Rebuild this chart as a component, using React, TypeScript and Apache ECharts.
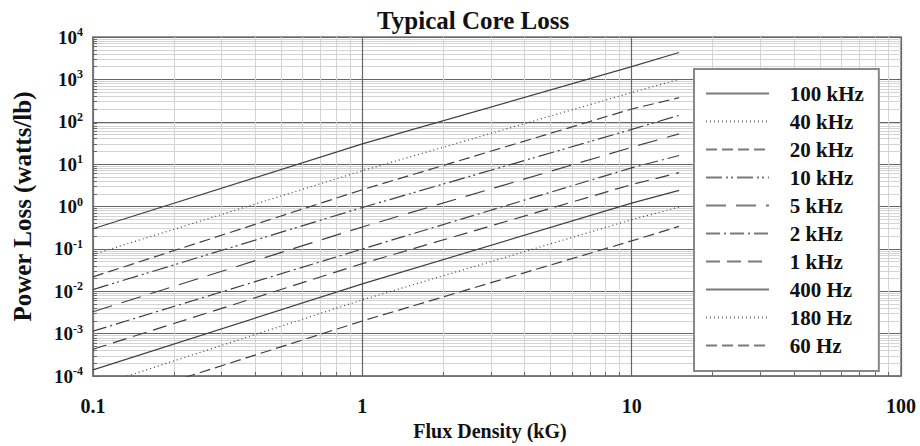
import React, { useEffect, useRef } from "react";
import * as echarts from "echarts";

// Flux density sample points (kG)
const fluxDensity = [0.1, 1, 10, 15];
const frequencies = ["100 kHz", "40 kHz", "20 kHz", "10 kHz", "5 kHz", "2 kHz", "1 kHz", "400 Hz", "180 Hz", "60 Hz"];
// Power loss (watts/lb) at each flux density point
const loss100k = [0.3, 30, 2000, 4300];
const loss40k = [0.074, 7, 490, 1000];
const loss20k = [0.022, 2.5, 200, 370];
const loss10k = [0.011, 0.95, 66, 142];
const loss5k = [0.0033, 0.33, 25, 52];
const loss2k = [0.00115, 0.1, 8.2, 16];
const loss1k = [0.00043, 0.045, 3.3, 6.3];
const loss400 = [0.00014, 0.015, 1.2, 2.4];
const loss180 = [0.000055, 0.0063, 0.49, 0.97];
const loss60 = [0.000019, 0.002, 0.155, 0.34];
const lossSeries = [loss100k, loss40k, loss20k, loss10k, loss5k, loss2k, loss1k, loss400, loss180, loss60];

const dashes: (string | number[])[] = [
  "solid",
  [1, 3],
  [11, 5],
  [16, 4, 2, 3, 2, 4],
  [20, 10],
  [14, 4, 2, 4],
  [14, 7],
  "solid",
  [1, 3],
  [11, 5],
];

const FONT = "'Liberation Serif', 'DejaVu Serif', serif";

export default function App() {
  const ref = useRef<HTMLDivElement>(null);
  useEffect(() => {
    if (!ref.current) return;
    const chart = echarts.init(ref.current, null, { renderer: "svg" });
    const series = frequencies.map((name, si) => ({
      name,
      type: "line",
      data: fluxDensity.map((b, i) => [b, lossSeries[si][i]]),
      showSymbol: false,
      symbol: "none",
      clip: true,
      lineStyle: { color: "#404040", width: 1.2, type: dashes[si] },
      itemStyle: { color: "#404040" },
    }));
    chart.setOption({
      animation: false,
      backgroundColor: "#ffffff",
      title: {
        text: "Typical Core Loss",
        left: 372,
        top: 3,
        textStyle: { fontFamily: FONT, fontSize: 25, fontWeight: "bold", color: "#111" },
      },
      grid: {
        left: 93,
        right: 19,
        top: 37,
        bottom: 43,
        show: true,
        borderColor: "#777",
        borderWidth: 1.5,
        backgroundColor: "transparent",
      },
      legend: {
        orient: "vertical",
        left: 694,
        top: 69,
        itemWidth: 63,
        itemHeight: 14,
        itemGap: 7,
        padding: [14, 15, 15, 11],
        backgroundColor: "#ffffff",
        borderColor: "#888",
        borderWidth: 2,
        borderRadius: 0,
        itemStyle: { opacity: 0 },
        lineStyle: { color: "#7a7a7a" },
        formatter: (n: string) => "   " + n,
        textStyle: {
          fontFamily: FONT,
          fontSize: 21,
          fontWeight: "bold",
          color: "#111",
        },
        data: frequencies,
      },
      xAxis: {
        type: "log",
        logBase: 10,
        min: 0.1,
        max: 100,
        name: "Flux Density (kG)",
        nameLocation: "middle",
        nameGap: 22,
        nameTextStyle: { fontFamily: FONT, fontSize: 20, fontWeight: "bold", color: "#111", padding: [0, 14, 0, 0] },
        axisLine: { show: true, lineStyle: { color: "#777", width: 1.5 } },
        axisTick: { show: true, inside: true, length: 5, lineStyle: { color: "#666" } },
        minorTick: { show: true, splitNumber: 9, length: 4, lineStyle: { color: "#666" } },
        axisLabel: {
          fontFamily: FONT,
          fontSize: 20,
          fontWeight: "bold",
          color: "#111",
          margin: 20,
          formatter: (v: number) => String(v),
        },
        splitLine: { show: true, lineStyle: { color: "#666", width: 1.2 } },
        minorSplitLine: { show: true, lineStyle: { color: "#d4d4d4", width: 1 } },
      },
      yAxis: {
        type: "log",
        logBase: 10,
        min: 0.0001,
        max: 10000,
        name: "Power Loss (watts/lb)",
        nameLocation: "middle",
        nameRotate: 90,
        nameGap: 58,
        nameTextStyle: { fontFamily: FONT, fontSize: 25, fontWeight: "bold", color: "#111" },
        axisLine: { show: true, lineStyle: { color: "#777", width: 1.5 } },
        axisTick: { show: true, inside: true, length: 6, lineStyle: { color: "#666" } },
        minorTick: { show: true, splitNumber: 9, length: 4, lineStyle: { color: "#666" } },
        axisLabel: {
          margin: 10,
          formatter: (v: number) => "{b|10}{e|" + Math.round(Math.log10(v)) + "}",
          rich: {
            b: { fontFamily: FONT, fontSize: 19, fontWeight: "bold", color: "#111", lineHeight: 22 },
            e: { fontFamily: FONT, fontSize: 12, fontWeight: "bold", color: "#111", lineHeight: 12, verticalAlign: "top" },
          },
        },
        splitLine: { show: true, lineStyle: { color: "#666", width: 1.2 } },
        minorSplitLine: { show: true, lineStyle: { color: "#d4d4d4", width: 1 } },
      },
      series,
    });
    return () => chart.dispose();
  }, []);
  return (
    <div
      ref={ref}
      style={{ position: "fixed", left: 0, top: 0, width: 920, height: 446, background: "#fff" }}
    />
  );
}
